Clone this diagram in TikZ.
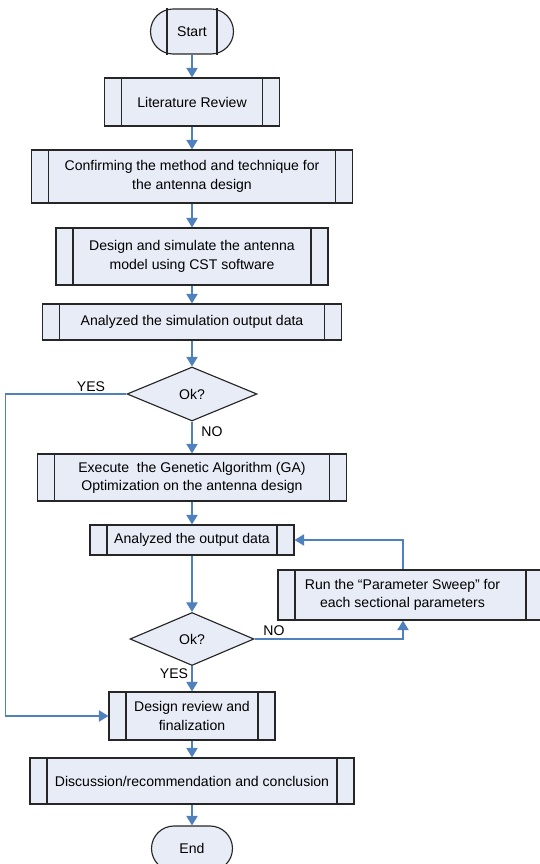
\documentclass[tikz,border=0pt]{standalone}
\usepackage{fontspec}
\setmainfont{Liberation Sans}
\usetikzlibrary{arrows.meta,shapes.geometric}

\definecolor{boxfill}{RGB}{231,236,247}
\definecolor{flowblue}{RGB}{79,129,189}

\tikzset{
  procbox/.style={draw=black!85, line width=0.65pt, fill=boxfill, align=center, inner sep=0pt,
    path picture={
      \draw[line width=0.65pt, black!85, sharp corners]
        ([xshift=0.34cm]path picture bounding box.north west) -- ([xshift=0.34cm]path picture bounding box.south west)
        ([xshift=-0.34cm]path picture bounding box.north east) -- ([xshift=-0.34cm]path picture bounding box.south east);
    }},
  termbox/.style={draw=black!85, line width=0.65pt, fill=boxfill, inner sep=0pt,
    minimum width=1.62cm, minimum height=0.9cm, rounded corners=0.45cm},
  okbox/.style={diamond, draw=black!85, line width=0.65pt, fill=boxfill, inner sep=0pt},
  flow/.style={draw=flowblue, line width=0.7pt, -{Triangle[width=6.5pt,length=5.5pt]}},
  lbl/.style={inner sep=0pt}
}

\begin{document}
\begin{tikzpicture}[x=0.02cm, y=-0.02cm, font=\fontsize{8}{10.4}\selectfont]
  \useasboundingbox (0,0) rectangle (539,864);

  % main column
  \node[termbox, minimum width=1.66cm] (start) at (192,31.5) {Start};
  \draw[line width=0.65pt, black!85] ([xshift=0.34cm]start.north west) -- ([xshift=0.34cm]start.south west)
    ([xshift=-0.34cm]start.north east) -- ([xshift=-0.34cm]start.south east);
  \node[procbox, minimum width=3.5cm, minimum height=0.96cm] (lit) at (192,102) {Literature Review};
  \node[procbox, minimum width=6.42cm, minimum height=1.06cm] (conf) at (192,176.5)
    {Confirming the method and technique for\\the antenna design};
  \node[procbox, minimum width=5.44cm, minimum height=1.14cm] (sim) at (192,256.5)
    {Design and simulate the antenna\\model using CST software};
  \node[procbox, minimum width=5.98cm, minimum height=0.72cm] (anal) at (192,322)
    {Analyzed the simulation output data};
  \node[okbox, minimum width=2.6cm, minimum height=1.08cm] (ok1) at (192,394) {Ok?};
  \node[procbox, minimum width=6.18cm, minimum height=0.94cm] (ga) at (192,477.5)
    {Execute\ \ the Genetic Algorithm (GA)\\Optimization on the antenna design};
  \node[procbox, minimum width=4.08cm, minimum height=0.6cm] (out) at (192,540)
    {Analyzed the output data};
  \node[procbox, minimum width=5.3cm, minimum height=1.0cm] (sweep) at (410.5,595)
    {\begin{tabular}{@{}c@{}}Run the “Parameter Sweep” for\\each sectional parameters\end{tabular}\hspace*{0.32cm}};
  \node[okbox, minimum width=2.48cm, minimum height=1.06cm] (ok2) at (192,639) {Ok?};
  \node[procbox, minimum width=3.32cm, minimum height=0.96cm] (rev) at (192,716)
    {Design review and\\finalization};
  \node[procbox, minimum width=6.48cm, minimum height=0.92cm] (disc) at (192,781)
    {Discussion/recommendation and conclusion};
  \node[termbox] (end) at (192,848.5) {End};

  % connectors
  \draw[flow] (start) -- (lit);
  \draw[flow] (lit) -- (conf);
  \draw[flow] (conf) -- (sim);
  \draw[flow] (sim) -- (anal);
  \draw[flow] (anal) -- (ok1);
  \draw[flow] (ok1) -- (ga);
  \draw[flow] (ga) -- (out);
  \draw[flow] (out) -- (ok2);
  \draw[flow] (ok2) -- (rev);
  \draw[flow] (rev) -- (disc);
  \draw[flow] (disc) -- (end);
  \draw[flow] (ok1.west) -- ++(-121,0) |- (rev.west);
  \draw[flow] (ok2.east) -| ([xshift=-0.15cm]sweep.south);
  \draw[flow] ([xshift=-0.15cm]sweep.north) |- (out.east);

  \node[lbl] (yes1) at (91,387) {YES};
  \node[lbl] (no1) at (212,432) {NO};
  \node[lbl] (no2) at (274,631) {NO};
  \node[lbl] (yes2) at (174,674) {YES};
\end{tikzpicture}
\end{document}
